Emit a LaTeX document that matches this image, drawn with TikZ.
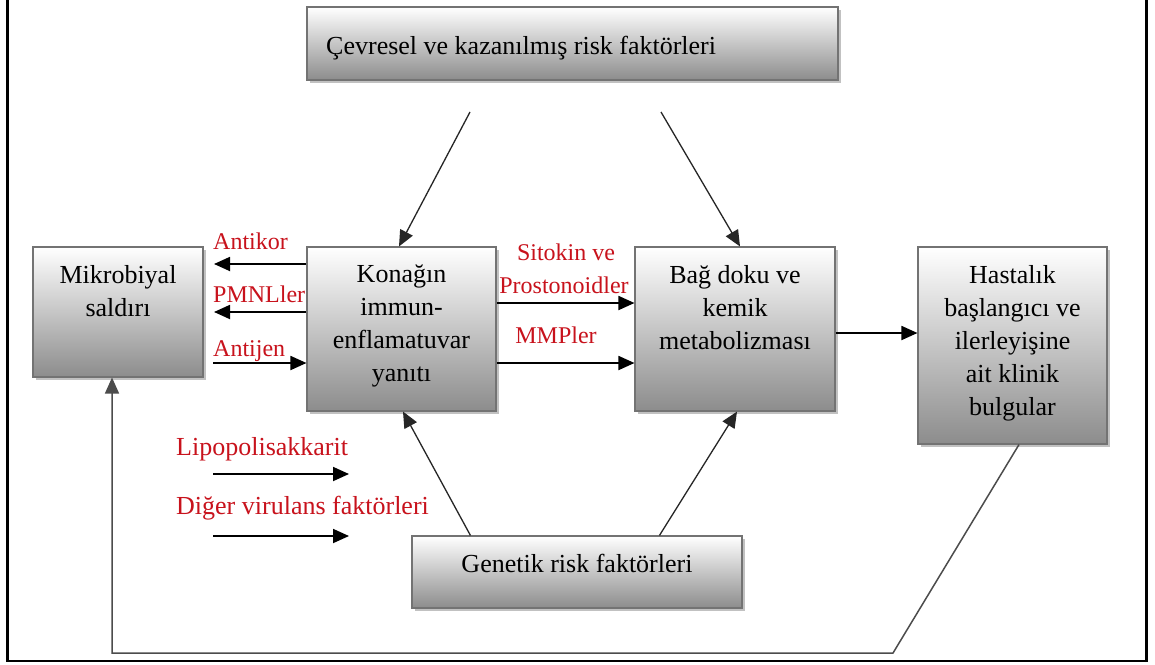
\documentclass[tikz,border=0pt]{standalone}
\usepackage{fontspec}
\setmainfont{Liberation Serif}
\usetikzlibrary{arrows.meta,shadows}
\definecolor{lblred}{RGB}{200,18,28}
\begin{document}
\begin{tikzpicture}[x=1pt,y=-1pt,
  box/.style={draw=black!55, line width=1.1pt, top color=white, bottom color=black!45,
    inner sep=0pt, drop shadow={shadow xshift=2.5pt, shadow yshift=-2.5pt, fill=black!40, opacity=.6}},
  boxtext/.style={inner sep=0pt, align=center, anchor=north, font=\fontsize{26}{33}\selectfont},
  lbl/.style={inner sep=0pt, text=lblred, anchor=base west, font=\fontsize{24}{30}\selectfont},
  biglbl/.style={lbl, font=\fontsize{26}{32}\selectfont},
  tip/.style={-{Triangle[length=16pt,width=14pt]}},
  arr/.style={line width=1.8pt, tip},
  diag/.style={line width=1.3pt, draw=black!85, tip},
  fb/.style={line width=1.5pt, draw=black!70},
]
\fill[white] (0,0) rectangle (1155,664);
\useasboundingbox (0,0) rectangle (1155,664);

% frame
\draw[line width=2.2pt] (7.5,0) -- (7.5,661) -- (1146,661);
\draw[line width=3pt] (1146,662) -- (1146,0);

% boxes
\node[box, minimum width=531pt, minimum height=73pt] (cev) at (572.5,43.5) {};
\node[box, minimum width=170pt, minimum height=130pt] (mik) at (118,312) {};
\node[box, minimum width=189pt, minimum height=164pt] (kon) at (401.5,329) {};
\node[box, minimum width=200pt, minimum height=164pt] (bag) at (735,329) {};
\node[box, minimum width=189pt, minimum height=197pt] (has) at (1012.5,345.5) {};
\node[box, minimum width=330pt, minimum height=72pt] (gen) at (577,572) {};

% box texts
\node[boxtext] (mikT) at (118,265) {Mikrobiyal\\saldırı};
\node[boxtext] (konT) at (401.5,265) {Konağın\\immun-\\enflamatuvar\\yanıtı};
\node[boxtext] (bagT) at (735,265) {Bağ doku ve\\kemik\\metabolizması};
\node[boxtext] (hasT) at (1012.5,265) {Hastalık\\başlangıcı ve\\ilerleyişine\\ait klinik\\bulgular};
\node[boxtext, anchor=base west] (cevT) at (326,54) {Çevresel ve kazanılmış risk faktörleri};
\node[boxtext, anchor=base] (genT) at (577,572) {Genetik risk faktörleri};

% red labels
\node[lbl] (antikorL) at (213,249) {Antikor};
\node[lbl] (pmnlL) at (213,302) {PMNLler};
\node[lbl] (antijenL) at (213,356) {Antijen};
\node[lbl, anchor=base] (sitL) at (566,260) {Sitokin ve};
\node[lbl, anchor=base] (proL) at (564,293) {Prostonoidler};
\node[lbl, anchor=base] (mmpL) at (556,343) {MMPler};
\node[biglbl] (lipoL) at (176,455) {Lipopolisakkarit};
\node[biglbl] (digerL) at (176,514) {Diğer virulans faktörleri};

% free ends
\coordinate (cevL) at (470,112);
\coordinate (cevR) at (661,112);
\coordinate (antikorE) at (214,264);
\coordinate (pmnlE) at (214,312);
\coordinate (antijenS) at (213,363);
\coordinate (lipoS) at (213,474);
\coordinate (lipoE) at (349,474);
\coordinate (digerS) at (213,536);
\coordinate (digerE) at (349,536);
\coordinate (sitY) at (0,303);
\coordinate (mmpY) at (0,363);
\coordinate (bhY) at (0,333);
\coordinate (fb1) at (893,653);
\coordinate (fb2) at (112,653);

% connectors
\draw[arr] (kon.west |- antikorE) -- (antikorE);
\draw[arr] (kon.west |- pmnlE) -- (pmnlE);
\draw[arr] (antijenS) -- (antijenS -| kon.west);
\draw[arr] (kon.east |- sitY) -- (bag.west |- sitY);
\draw[arr] (kon.east |- mmpY) -- (bag.west |- mmpY);
\draw[arr] (bag.east |- bhY) -- (has.west |- bhY);
\draw[arr] (lipoS) -- (lipoE);
\draw[arr] (digerS) -- (digerE);
\draw[diag] (cevL) -- ([xshift=-2.5pt]kon.north);
\draw[diag] (cevR) -- ([xshift=5pt]bag.north);
\draw[diag] ([xshift=59pt]gen.north west) -- ([xshift=1.5pt]kon.south);
\draw[diag] ([xshift=248pt]gen.north west) -- ([xshift=2pt]bag.south);
\draw[fb, tip] ([xshift=6.5pt]has.south) -- (fb1) -- (fb2) -- (fb2 |- mik.south);
\end{tikzpicture}
\end{document}
